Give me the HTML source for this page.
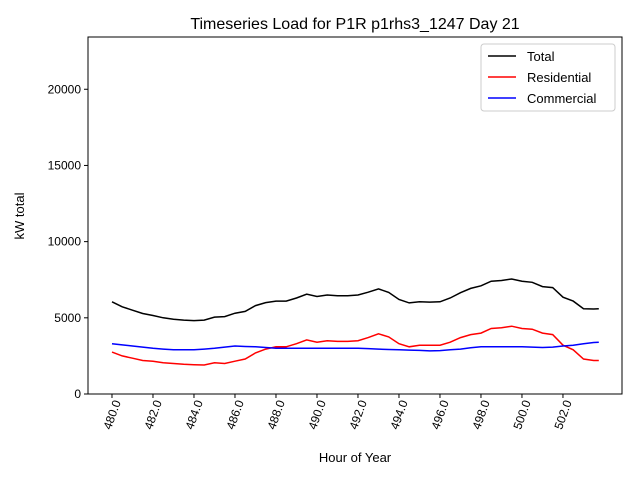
<!DOCTYPE html>
<html><head><meta charset="utf-8"><style>
body{margin:0;background:#fff;}
svg text{font-family:"Liberation Sans","DejaVu Sans",sans-serif;fill:#000;}
</style></head><body>
<svg id="chart" width="640" height="480" xmlns="http://www.w3.org/2000/svg">
<rect width="640" height="480" fill="#fff"/>
<text x="355" y="29" font-size="16" text-anchor="middle">Timeseries Load for P1R p1rhs3_1247  Day 21</text>
<g id="plot"></g>
<text x="355" y="462" font-size="13" text-anchor="middle">Hour of Year</text>
<text transform="translate(24,216) rotate(-90)" font-size="13" text-anchor="middle">kW total</text>
</svg>
<script>
const hours=[480,480.5,481,481.5,482,482.5,483,483.5,484,484.5,485,485.5,486,486.5,487,487.5,488,488.5,489,489.5,490,490.5,491,491.5,492,492.5,493,493.5,494,494.5,495,495.5,496,496.5,497,497.5,498,498.5,499,499.5,500,500.5,501,501.5,502,502.5,503,503.5,503.75];
const residential=[2750,2500,2350,2200,2150,2050,2000,1950,1920,1900,2050,2000,2150,2300,2700,2950,3100,3100,3300,3550,3400,3500,3450,3450,3500,3700,3950,3750,3300,3100,3200,3200,3200,3400,3700,3900,4000,4300,4350,4450,4300,4250,4000,3900,3200,2900,2300,2200,2200];
const commercial=[3300,3220,3150,3080,3000,2950,2900,2900,2900,2950,3000,3080,3150,3120,3100,3050,3000,3000,3000,3000,3000,3000,3000,3000,3000,2980,2950,2920,2900,2880,2860,2830,2850,2900,2950,3030,3100,3100,3100,3100,3100,3080,3050,3080,3150,3200,3300,3380,3400];
const total=[6050,5720,5500,5280,5150,5000,4900,4850,4820,4850,5050,5080,5300,5420,5800,6000,6100,6100,6300,6550,6400,6500,6450,6450,6500,6680,6900,6670,6200,5980,6060,6030,6050,6300,6650,6930,7100,7400,7450,7550,7400,7330,7050,6980,6350,6100,5600,5580,5600];
const yTicks=[0,5000,10000,15000,20000];
const xTicks=[480,482,484,486,488,490,492,494,496,498,500,502];
const L=88,R=622,T=37,B=394;
const xmin=478.83,xmax=504.88,ymin=0,ymax=23430;
const sx=v=>L+(v-xmin)/(xmax-xmin)*(R-L);
const sy=v=>B-(v-ymin)/(ymax-ymin)*(B-T);
const NS="http://www.w3.org/2000/svg";
const g=document.getElementById('plot');
function mk(tag,attrs){const e=document.createElementNS(NS,tag);for(const k in attrs)e.setAttribute(k,attrs[k]);g.appendChild(e);return e;}
function line(arr,color,name){
  const e=mk('polyline',{points:arr.map((v,i)=>sx(hours[i]).toFixed(1)+','+sy(v).toFixed(1)).join(' '),fill:'none',stroke:color,'stroke-width':1.5});
  
  
}
line(total,'#000','total-line');
line(residential,'#f00','residential-line');
line(commercial,'#00f','commercial-line');
const frame=mk('rect',{x:L,y:T,width:R-L,height:B-T,fill:'none',stroke:'#000','stroke-width':1});


yTicks.forEach(v=>{
  const y=sy(v);
  const t=mk('line',{x1:L-4,x2:L,y1:y,y2:y,stroke:'#000'});
  
  
  const tx=mk('text',{x:L-7,y:y+4,'font-size':12,'text-anchor':'end'});
  tx.textContent=v;
  
  
});
xTicks.forEach(v=>{
  const x=sx(v);
  const t=mk('line',{x1:x,x2:x,y1:B,y2:B+4,stroke:'#000'});
  
  
  const tx=mk('text',{transform:`translate(${x+9},${B+8}) rotate(-70)`,'font-size':12,'text-anchor':'end'});
  tx.textContent=v.toFixed(1);
  
  
});
const lg=mk('rect',{x:481,y:44,width:134,height:67,fill:'#fff',stroke:'#ccc',rx:3});


[['Total','#000'],['Residential','#f00'],['Commercial','#00f']].forEach((s,i)=>{
  const y=56+i*21;
  const l=mk('line',{x1:488,x2:516,y1:y,y2:y,stroke:s[1],'stroke-width':1.5});
  
  
  const t=mk('text',{x:527,y:y+5,'font-size':13});
  t.textContent=s[0];
  
  
});
</script>
</body></html>
